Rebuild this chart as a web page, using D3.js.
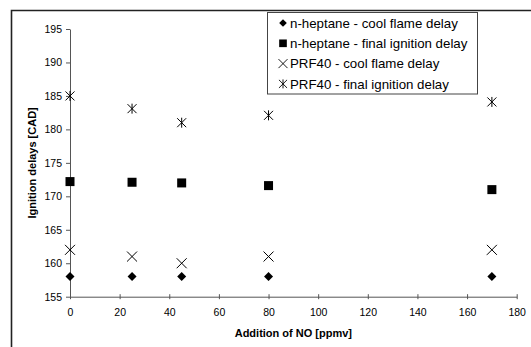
<!DOCTYPE html>
<html>
<head>
<meta charset="utf-8">
<script src="https://cdn.jsdelivr.net/npm/d3@7"></script>
<style>
  body { margin: 0; background: #fff; }
  svg { display: block; font-family: Arial, "Liberation Sans", sans-serif; }
</style>
</head>
<body>
<div id="chart"></div>
<script>
// NO addition (ppmv)
let noAddition = [0, 25, 45, 80, 170];

let heptaneCool = [158, 158, 158, 158, 158];
let heptaneFinal = [172.2, 172.1, 172.0, 171.6, 171.0];
let prfCool = [162, 161, 160, 161, 162];
let prfFinal = [185, 183.1, 181, 182.1, 184.1];

let seriesNames = [
    "n-heptane - cool flame delay",
    "n-heptane - final ignition delay",
    "PRF40 - cool flame delay",
    "PRF40 - final ignition delay"
];
let seriesSymbols = ["diamond", "square", "cross", "star"];

let xTicks = [0, 20, 40, 60, 80, 100, 120, 140, 160, 180];
let yTicks = [155, 160, 165, 170, 175, 180, 185, 190, 195];

let W = 531, H = 347;
let margin = {top: 29, right: 14, bottom: 50, left: 70};
let width = 516.7 - margin.left,
    height = 296.7 - margin.top;

let svg = d3.select("#chart").append("svg")
    .attr("width", W)
    .attr("height", H);

// outer chart frame
svg.append("path")
    .attr("d", "M11.5," + H + "V10.5H" + W)
    .attr("fill", "none")
    .attr("stroke", "#222")
    .attr("stroke-width", 1.6);

let g = svg.append("g").attr("transform", "translate(" + margin.left + "," + margin.top + ")");

let xScale = d3.scaleLinear().domain([0, 180]).range([0, width]);
let yScale = d3.scaleLinear().domain([155, 195]).range([height, 0]);

//Add the y Axis
let yAxis = g.append("g")
    .call(d3.axisLeft(yScale).tickValues(yTicks).tickSize(4).tickPadding(4).tickSizeOuter(0));
yAxis.select(".domain").attr("stroke", "#555");
yAxis.selectAll(".tick line").attr("stroke", "#555");
yAxis.selectAll(".tick text").attr("font-size", 10.5).attr("fill", "#000");

//Add the x Axis
let xAxis = g.append("g")
    .attr("transform", "translate(0," + height + ")")
    .call(d3.axisBottom(xScale).tickValues(xTicks).tickSize(2.5).tickPadding(9).tickSizeOuter(0));
xAxis.select(".domain").attr("stroke", "#555");
xAxis.selectAll(".tick line").attr("stroke", "#555").attr("y1", -2.5);
xAxis.selectAll(".tick text").attr("font-size", 10.5).attr("fill", "#000");

svg.append("text")
    .attr("font-weight", "bold")
    .attr("font-size", 11)
    .attr("fill", "#000")
    .attr("transform", "rotate(-90)")
    .attr("x", -(margin.top + height / 2))
    .attr("y", 36)
    .attr("text-anchor", "middle")
    .text("Ignition delays [CAD]");

svg.append("text")
    .attr("font-weight", "bold")
    .attr("font-size", 11)
    .attr("fill", "#000")
    .attr("x", margin.left + width / 2)
    .attr("y", 337)
    .attr("text-anchor", "middle")
    .text("Addition of NO [ppmv]");

function drawSymbol(sel, type) {
    if (type === "diamond") {
        sel.append("path").attr("d", "M0,-4.5L4.5,0L0,4.5L-4.5,0Z").attr("fill", "#000");
    } else if (type === "square") {
        sel.append("rect").attr("x", -4.5).attr("y", -4.5).attr("width", 9).attr("height", 9).attr("fill", "#000");
    } else if (type === "cross") {
        sel.append("path").attr("d", "M-5,-5L5,5M-5,5L5,-5").attr("stroke", "#000").attr("stroke-width", 1).attr("fill", "none");
    } else {
        sel.append("path").attr("d", "M-4.5,-4.5L4.5,4.5M-4.5,4.5L4.5,-4.5M0,-5V5").attr("stroke", "#000").attr("stroke-width", 1).attr("fill", "none");
    }
}

let allSeries = [heptaneCool, heptaneFinal, prfCool, prfFinal];

allSeries.forEach((vals, i) => {
    let points = vals.map((v, j) => ({ cx: noAddition[j], cy: v }));
    g.append("g").selectAll("g")
        .data(points)
        .enter().append("g")
        .attr("transform", (d) => "translate(" + xScale(d.cx) + "," + yScale(d.cy) + ")")
        .each(function() { drawSymbol(d3.select(this), seriesSymbols[i]); });
});

// legend
let legend = svg.append("g");
legend.append("rect")
    .attr("x", 267.5).attr("y", 12.5)
    .attr("width", 210).attr("height", 81.5)
    .attr("fill", "#fff")
    .attr("stroke", "#444")
    .attr("stroke-width", 1);

seriesNames.forEach((name, i) => {
    let row = legend.append("g").attr("transform", "translate(283," + (23 + i * 20.3) + ")");
    let sym = row.append("g").attr("transform", i < 2 ? "scale(0.85)" : "scale(0.9)");
    drawSymbol(sym, seriesSymbols[i]);
    row.append("text")
        .attr("x", 7)
        .attr("dy", "0.35em")
        .attr("font-size", 13.3)
        .attr("fill", "#000")
        .text(name);
});
</script>
</body>
</html>
